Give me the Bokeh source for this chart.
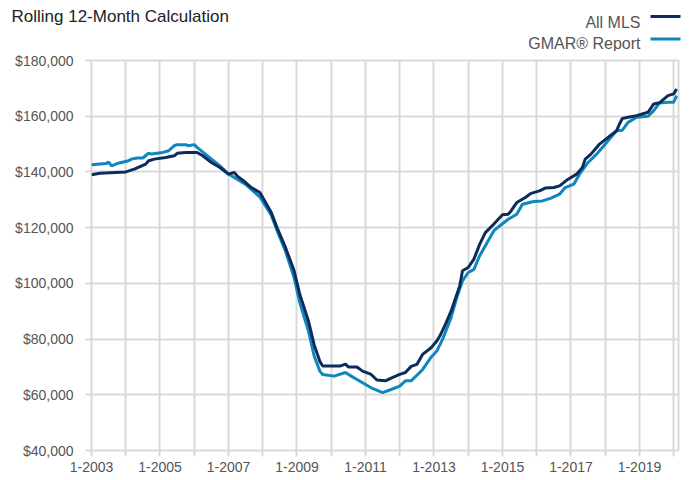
from bokeh.plotting import figure
from bokeh.models import FixedTicker, NumeralTickFormatter, Range1d
from bokeh.layouts import column, row
from bokeh.core.properties import value
from bokeh.embed import file_html
from bokeh.resources import INLINE

# ---- data ----
mls_dates = ["2003-01", "2003-04", "2004-01", "2004-04", "2004-08", "2004-09", "2004-11", "2005-03",
             "2005-06", "2005-07", "2005-10", "2006-02", "2006-04", "2006-07", "2006-10", "2007-01",
             "2007-03", "2007-04", "2007-07", "2007-09", "2007-12", "2008-02", "2008-04", "2008-06",
             "2008-09", "2008-12", "2009-02", "2009-05", "2009-07", "2009-09", "2009-10", "2010-04",
             "2010-06", "2010-07", "2010-10", "2010-12", "2011-03", "2011-05", "2011-08", "2011-10",
             "2012-01", "2012-03", "2012-05", "2012-07", "2012-09", "2012-12", "2013-02", "2013-03",
             "2013-05", "2013-07", "2013-09", "2013-10", "2013-11", "2014-01", "2014-03", "2014-05",
             "2014-07", "2014-10", "2015-01", "2015-03", "2015-04", "2015-06", "2015-09", "2015-11",
             "2016-02", "2016-04", "2016-07", "2016-09", "2016-12", "2017-03", "2017-05", "2017-06",
             "2017-08", "2017-10", "2017-11", "2018-02", "2018-05", "2018-06", "2018-07", "2018-09",
             "2018-12", "2019-04", "2019-06", "2019-08", "2019-11", "2020-01", "2020-02"]
mls_values = [139000, 139500, 140000, 141000, 142800, 144000, 144600, 145200,
              145800, 146700, 147000, 147000, 145800, 143400, 141600, 139200,
              139800, 138600, 136200, 134400, 132600, 129000, 125400, 120000,
              112800, 104500, 96000, 86500, 78000, 72000, 70300, 70300,
              71000, 70000, 70000, 68500, 67300, 65300, 65000, 66000,
              67300, 68000, 70200, 70900, 74500, 76900, 79300, 81000,
              85300, 90000, 96000, 99000, 104500, 105700, 108700, 114000,
              118200, 121300, 124600, 124800, 126000, 129000, 130800, 132300,
              133200, 134200, 134400, 135000, 137400, 139200, 141600, 144600,
              146400, 148800, 150000, 152400, 154800, 157200, 159200, 159600,
              160200, 161400, 164400, 164800, 167400, 168000, 169800]

gmar_dates = ["2003-01", "2003-06", "2003-07", "2003-08", "2003-10", "2004-02", "2004-03", "2004-05",
              "2004-07", "2004-09", "2004-10", "2005-02", "2005-04", "2005-06", "2005-07", "2005-10",
              "2005-11", "2006-01", "2006-02", "2006-10", "2007-01", "2007-02", "2007-07", "2007-12",
              "2008-04", "2008-06", "2008-09", "2008-12", "2009-02", "2009-05", "2009-07", "2009-09",
              "2009-10", "2010-02", "2010-06", "2010-08", "2010-10", "2010-12", "2011-03", "2011-07",
              "2011-10", "2012-01", "2012-03", "2012-05", "2012-09", "2012-12", "2013-02", "2013-04",
              "2013-07", "2013-09", "2013-11", "2014-01", "2014-03", "2014-05", "2014-08", "2014-10",
              "2014-12", "2015-03", "2015-06", "2015-07", "2015-08", "2015-12", "2016-03", "2016-06",
              "2016-09", "2016-11", "2017-02", "2017-04", "2017-07", "2017-10", "2017-12", "2018-03",
              "2018-05", "2018-07", "2018-09", "2018-12", "2019-04", "2019-06", "2019-08", "2019-11",
              "2020-01", "2020-02"]
gmar_values = [142600, 143000, 143500, 142200, 143000, 144000, 144600, 145000,
               145000, 146700, 146400, 147000, 147600, 149400, 149800, 149800,
               149400, 149800, 148800, 142200, 139200, 138600, 135500, 131000,
               124500, 119000, 111500, 102000, 93000, 83000, 74000, 68500,
               67300, 66700, 68000, 66700, 65500, 64300, 62500, 60800,
               61900, 63100, 65000, 65000, 69000, 73500, 75700, 79900,
               87700, 94900, 100900, 103900, 105000, 109900, 115300, 118900,
               120600, 123000, 124800, 126600, 128400, 129400, 129600, 130600,
               132000, 134400, 135600, 139200, 143400, 146400, 148800, 152400,
               154800, 155000, 157800, 159600, 160000, 162000, 164700, 165000,
               165000, 167400]

series_names = ["All MLS", "GMAR® Report"]
year_ticks = list(range(2003, 2021))
label_years = list(range(2003, 2020, 2))
y_ticks = [40000, 60000, 80000, 100000, 120000, 140000, 160000, 180000]
title_text = "Rolling 12-Month Calculation"

DARK = "#0c2c5c"
LIGHT = "#0f87bd"
GRID = "#d9d9d9"
FONT = "Liberation Sans"


def to_x(d):
    y, m = d.split("-")
    return int(y) + (int(m) - 1) / 12.0


mls_x = [to_x(d) for d in mls_dates]
gmar_x = [to_x(d) for d in gmar_dates]

# ---- header (pixel-like coordinates): title + legend (text, then line sample) ----
HEAD_H = 51
h = figure(width=692, height=HEAD_H, output_backend="svg", toolbar_location=None,
           x_range=Range1d(0, 692), y_range=Range1d(HEAD_H, 0),
           min_border=0, x_axis_type=None, y_axis_type=None)
h.outline_line_color = None
h.background_fill_color = "white"
h.border_fill_color = "white"
h.xgrid.visible = False
h.ygrid.visible = False
h.text(x=[11], y=[16], text=[title_text], text_font=value(FONT), text_font_size="17px",
       text_color="#222222", text_baseline="alphabetic", text_align="left")
h.text(x=[640, 640], y=[21.5, 43], text=series_names, text_font=value(FONT),
       text_font_size="16px", text_color="#555555", text_baseline="alphabetic",
       text_align="right")
h.segment(x0=[650, 650], y0=[16, 38.5], x1=[680, 680], y1=[16, 38.5],
          line_color=[DARK, LIGHT], line_width=3)

# ---- main chart ----
p = figure(width=692, height=480 - HEAD_H, output_backend="svg", toolbar_location=None,
           x_range=Range1d(2003, 2020.14), y_range=Range1d(40000, 180000),
           min_border_left=91, min_border_top=60 - HEAD_H, min_border_right=14,
           min_border_bottom=30)
p.background_fill_color = "white"
p.border_fill_color = "white"
p.outline_line_color = GRID
p.outline_line_width = 2

p.line(gmar_x, gmar_values, line_width=3, line_color=LIGHT)
p.line(mls_x, mls_values, line_width=3, line_color=DARK)

p.xaxis.ticker = FixedTicker(ticks=year_ticks)
p.xaxis.major_label_overrides = {y: (f"1-{y}" if y in label_years else "") for y in year_ticks}
p.yaxis.ticker = FixedTicker(ticks=y_ticks)
p.yaxis.formatter = NumeralTickFormatter(format="$0,0")
for ax in (p.xaxis, p.yaxis):
    ax.axis_line_color = None
    ax.major_tick_line_color = GRID
    ax.major_tick_line_width = 2
    ax.major_tick_out = 6
    ax.major_tick_in = 0
    ax.minor_tick_line_color = None
    ax.major_label_text_font = FONT
    ax.major_label_text_font_size = "14px"
    ax.major_label_text_color = "#555555"
p.xaxis.major_label_standoff = 5
p.yaxis.major_label_standoff = 12

p.xgrid.ticker = FixedTicker(ticks=year_ticks)
p.ygrid.ticker = FixedTicker(ticks=y_ticks)
for g in (p.xgrid, p.ygrid):
    g.grid_line_color = GRID
    g.grid_line_width = 2

# header nested in a row so that its frame is not aligned to the chart's frame
layout = column(row(h), p, spacing=0)
open("out.html", "w").write(file_html(layout, INLINE))
